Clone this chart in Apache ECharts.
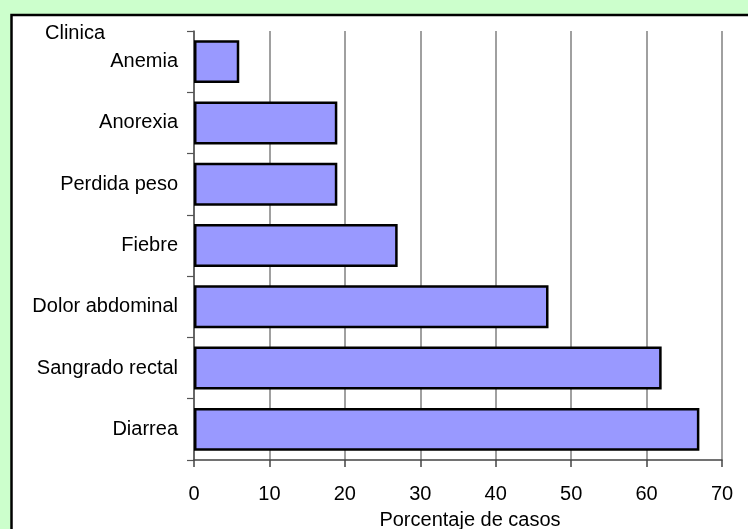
<!DOCTYPE html>
<html>
<head>
<meta charset="utf-8">
<script src="https://cdn.jsdelivr.net/npm/echarts@6/dist/echarts.min.js"></script>
<style>
  html, body { margin: 0; padding: 0; }
  #chart { width: 748px; height: 529px; }
</style>
</head>
<body>
<div id="chart"></div>
<script>
// Síntomas clínicos y porcentaje de casos
const categories = ['Anemia', 'Anorexia', 'Perdida peso', 'Fiebre', 'Dolor abdominal', 'Sangrado rectal', 'Diarrea'];
const porcentajes = [6, 19, 19, 27, 47, 62, 67];
const xTicks = { min: 0, max: 70, interval: 10 };

const FONT = 'Liberation Sans, Arial, sans-serif';
const FS = 20;

const chart = echarts.init(document.getElementById('chart'));
chart.setOption({
  backgroundColor: '#ccffcc',
  animation: false,
  graphic: [
    {
      type: 'rect',
      z: -10,
      shape: { x: 11.5, y: 15, width: 780, height: 560 },
      style: { fill: '#ffffff', stroke: '#000000', lineWidth: 2.5 }
    },
    {
      type: 'text',
      left: 45,
      top: 23,
      style: { text: 'Clinica', fill: '#000', font: FS + 'px ' + FONT }
    }
  ],
  grid: { left: 194, right: 26, top: 31, bottom: 69, containLabel: false, outerBoundsMode: 'none' },
  xAxis: {
    type: 'value',
    min: xTicks.min,
    max: xTicks.max,
    interval: xTicks.interval,
    name: 'Porcentaje de casos',
    nameLocation: 'middle',
    nameGap: 50,
    nameTextStyle: { color: '#000', fontSize: FS, fontFamily: FONT, padding: [0, 0, 0, 24] },
    axisLine: { show: true, lineStyle: { color: '#444', width: 1.5 } },
    axisTick: { show: true, length: 7, lineStyle: { color: '#444', width: 1.5 } },
    axisLabel: { color: '#000', fontSize: FS, fontFamily: FONT, margin: 24 },
    splitLine: { show: true, lineStyle: { color: '#808080', width: 1.5 } }
  },
  yAxis: {
    type: 'category',
    data: categories,
    inverse: true,
    axisLine: { show: true, lineStyle: { color: '#555', width: 1.5 } },
    axisTick: { show: true, length: 7, lineStyle: { color: '#555', width: 1.2 } },
    axisLabel: { color: '#000', fontSize: FS, fontFamily: FONT, margin: 16 },
    splitLine: { show: false }
  },
  series: [{
    type: 'bar',
    data: porcentajes,
    barCategoryGap: '30%',
    itemStyle: { color: '#9999ff', borderColor: '#000', borderWidth: 2.5 }
  }]
});
</script>
</body>
</html>
